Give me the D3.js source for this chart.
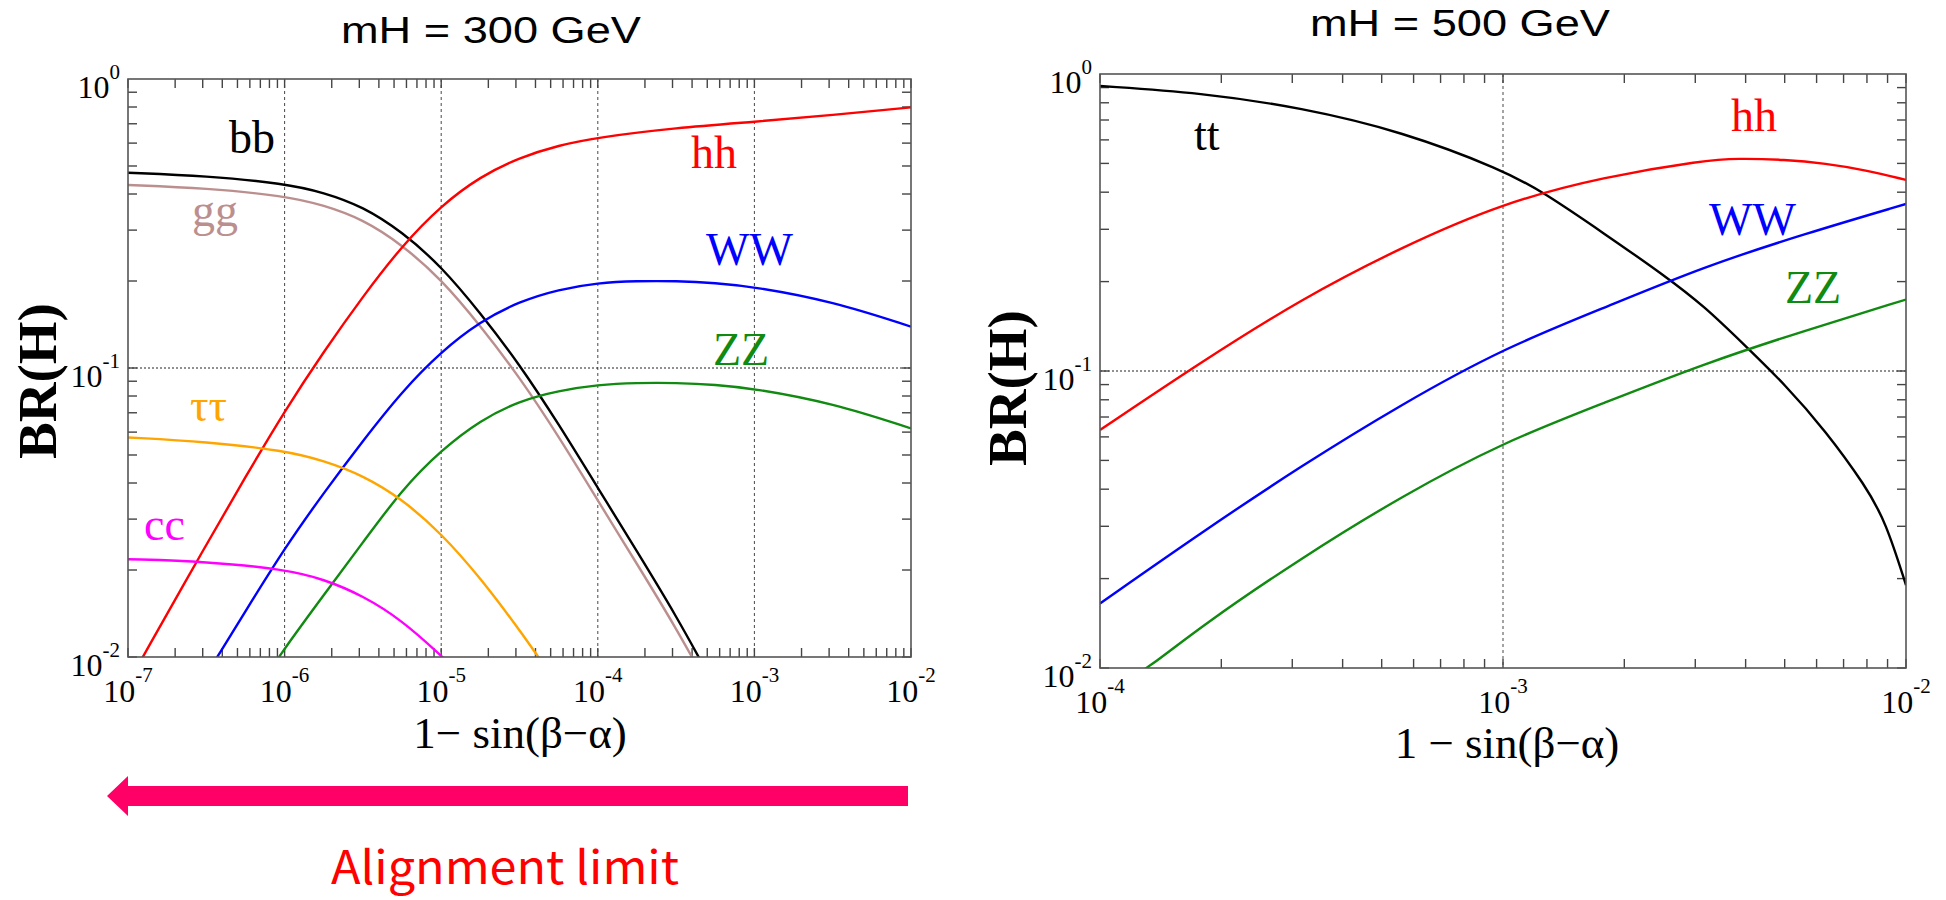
<!DOCTYPE html>
<html>
<head>
<meta charset="utf-8">
<script src="https://cdn.jsdelivr.net/npm/d3@7"></script>
<style>
  body { margin: 0; background: #fff; }
  svg { display: block; }
</style>
</head>
<body>
<svg id="chart" width="1946" height="900"></svg>
<script>
// ---- data : [log10(1 - sin(beta-alpha)), BR] ----

// mH = 300 GeV
var bb300 = [[-7, 0.474], [-6.5, 0.462], [-6, 0.435], [-5.75, 0.405], [-5.5, 0.362], [-5.25, 0.296], [-5, 0.225],
             [-4.75, 0.155], [-4.5, 0.103], [-4.25, 0.064], [-4, 0.0385], [-3.75, 0.0232], [-3.5, 0.0139], [-3.3, 0.0088]];
var gg300 = [[-7, 0.43], [-6.5, 0.419], [-6, 0.394], [-5.75, 0.366], [-5.5, 0.327], [-5.25, 0.267], [-5, 0.203],
             [-4.75, 0.14], [-4.5, 0.093], [-4.25, 0.058], [-4, 0.0348], [-3.75, 0.021], [-3.5, 0.0126], [-3.3, 0.008]];
var hh300 = [[-7, 0.0081], [-6.906, 0.01], [-6.5, 0.0245], [-6.25, 0.042], [-6, 0.071], [-5.75, 0.114], [-5.5, 0.177],
             [-5.25, 0.265], [-5, 0.365], [-4.75, 0.46], [-4.5, 0.535], [-4.25, 0.59], [-4, 0.628], [-3.5, 0.678],
             [-3, 0.711], [-2.5, 0.75], [-2, 0.798]];
var ww300 = [[-6.5, 0.0087], [-6.43, 0.01], [-6.25, 0.0144], [-6, 0.0238], [-5.75, 0.037], [-5.5, 0.056], [-5.25, 0.083],
             [-5, 0.114], [-4.75, 0.145], [-4.5, 0.17], [-4.25, 0.187], [-4, 0.197], [-3.75, 0.2], [-3.5, 0.2],
             [-3.25, 0.197], [-3, 0.191], [-2.5, 0.17], [-2, 0.139]];
var zz300 = [[-6.1, 0.0088], [-6.04, 0.01], [-5.75, 0.0164], [-5.5, 0.0249], [-5.25, 0.038], [-5, 0.052], [-4.75, 0.066],
             [-4.5, 0.077], [-4.25, 0.0835], [-4, 0.0875], [-3.75, 0.0889], [-3.5, 0.0889], [-3.25, 0.0876],
             [-3, 0.0849], [-2.5, 0.0756], [-2, 0.0618]];
var tautau300 = [[-7, 0.0575], [-6.5, 0.0556], [-6, 0.0518], [-5.75, 0.0478], [-5.5, 0.0425], [-5.25, 0.0352],
                 [-5, 0.0268], [-4.75, 0.0188], [-4.5, 0.0124], [-4.38, 0.01], [-4.3, 0.0087]];
var cc300 = [[-7, 0.0218], [-6.5, 0.0214], [-6, 0.0201], [-5.75, 0.0186], [-5.5, 0.0163], [-5.25, 0.0134],
             [-5, 0.0101], [-4.95, 0.0095]];

// mH = 500 GeV
var tt500 = [[-4, 0.911], [-3.75, 0.865], [-3.5, 0.77], [-3.25, 0.64], [-3, 0.475], [-2.9, 0.4], [-2.75, 0.291],
             [-2.6, 0.21], [-2.5, 0.165], [-2.4, 0.122], [-2.3, 0.09], [-2.2, 0.063], [-2.1, 0.041], [-2.05, 0.031],
             [-2, 0.019]];
var hh500 = [[-4, 0.0633], [-3.75, 0.107], [-3.5, 0.175], [-3.25, 0.262], [-3, 0.368], [-2.75, 0.451], [-2.5, 0.512],
             [-2.42, 0.52], [-2.3, 0.515], [-2.2, 0.5], [-2.1, 0.475], [-2, 0.44]];
var ww500 = [[-4, 0.0165], [-3.75, 0.0285], [-3.5, 0.048], [-3.25, 0.0775], [-3, 0.119], [-2.75, 0.163], [-2.5, 0.225],
             [-2.25, 0.29], [-2, 0.365]];
var zz500 = [[-3.95, 0.0088], [-3.88, 0.01], [-3.75, 0.0138], [-3.5, 0.0235], [-3.25, 0.038], [-3, 0.0575], [-2.75, 0.078],
             [-2.5, 0.106], [-2.25, 0.137], [-2, 0.174]];

// axis decades
var xExp300 = [-7, -6, -5, -4, -3, -2];
var xExp500 = [-4, -3, -2];
var yExp = [-2, -1, 0];

var svg = d3.select("#chart");

function sup(sel, exp, fs, ss, dy) {
  sel.append("tspan").attr("font-size", fs).text("10");
  sel.append("tspan").attr("font-size", ss).attr("dy", dy).text(exp);
}

// -------*****--------^^^^-------*****--------
//               one panel
// -------*****--------^^^^-------*****--------
function drawPanel(p) {
  var g = svg.append("g");

  var xScale = d3.scaleLog().domain([Math.pow(10, p.xExp[0]), Math.pow(10, p.xExp[p.xExp.length - 1])])
                 .range([p.left, p.right]);
  var yScale = d3.scaleLog().domain([1e-2, 1]).range([p.bottom, p.top]);

  var clipId = "clip_" + p.name;
  svg.append("clipPath").attr("id", clipId)
     .append("rect").attr("x", p.left).attr("y", p.top)
     .attr("width", p.right - p.left).attr("height", p.bottom - p.top);

  // grid
  p.xExp.slice(1, -1).forEach(function(e) {
    g.append("line")
     .attr("x1", xScale(Math.pow(10, e))).attr("x2", xScale(Math.pow(10, e)))
     .attr("y1", p.top).attr("y2", p.bottom)
     .attr("stroke", "#333").attr("stroke-width", 0.9).attr("stroke-dasharray", "3,3");
  });
  g.append("line")
   .attr("x1", p.left).attr("x2", p.right)
   .attr("y1", yScale(0.1)).attr("y2", yScale(0.1))
   .attr("stroke", "#222").attr("stroke-width", 1).attr("stroke-dasharray", "2,2");

  // ticks (all inside)
  var xt = [];
  for (var e = p.xExp[0]; e < p.xExp[p.xExp.length - 1]; e++) {
    for (var m = 1; m < 10; m++) xt.push(m * Math.pow(10, e));
  }
  xt.push(Math.pow(10, p.xExp[p.xExp.length - 1]));
  var yt = [];
  for (var e2 = -2; e2 < 0; e2++) {
    for (var m2 = 1; m2 < 10; m2++) yt.push(m2 * Math.pow(10, e2));
  }
  var tl = 9;
  xt.forEach(function(v) {
    var x = xScale(v);
    g.append("line").attr("x1", x).attr("x2", x).attr("y1", p.top).attr("y2", p.top + tl)
     .attr("stroke", "#444").attr("stroke-width", 1.4);
    g.append("line").attr("x1", x).attr("x2", x).attr("y1", p.bottom).attr("y2", p.bottom - tl)
     .attr("stroke", "#444").attr("stroke-width", 1.4);
  });
  yt.forEach(function(v) {
    var y = yScale(v);
    g.append("line").attr("x1", p.left).attr("x2", p.left + tl).attr("y1", y).attr("y2", y)
     .attr("stroke", "#444").attr("stroke-width", 1.4);
    g.append("line").attr("x1", p.right).attr("x2", p.right - tl).attr("y1", y).attr("y2", y)
     .attr("stroke", "#444").attr("stroke-width", 1.4);
  });

  // curves
  var line = d3.line()
               .x(function(d) { return xScale(Math.pow(10, d[0])); })
               .y(function(d) { return yScale(d[1]); })
               .curve(d3.curveBasis);
  var cg = g.append("g").attr("clip-path", "url(#" + clipId + ")");
  p.series.forEach(function(s) {
    cg.append("path").datum(s.data)
      .attr("fill", "none").attr("stroke", s.color).attr("stroke-width", 2.4)
      .attr("d", line);
  });

  // frame
  g.append("rect").attr("x", p.left).attr("y", p.top)
   .attr("width", p.right - p.left).attr("height", p.bottom - p.top)
   .attr("fill", "none").attr("stroke", "#555").attr("stroke-width", 1.6);

  // tick labels
  p.xExp.forEach(function(e) {
    var t = g.append("text").attr("x", xScale(Math.pow(10, e))).attr("y", p.bottom + 45)
             .attr("text-anchor", "middle").attr("font-family", "Liberation Serif, Times New Roman, serif")
             .attr("fill", "#000");
    sup(t, e, 32, 21, -20);
  });
  yExp.forEach(function(e) {
    var t = g.append("text").attr("x", p.left - 8).attr("y", yScale(Math.pow(10, e)) + 19)
             .attr("text-anchor", "end").attr("font-family", "Liberation Serif, Times New Roman, serif")
             .attr("fill", "#000");
    sup(t, e, 32, 21, -19);
  });

  // axis titles
  g.append("text")
   .attr("transform", "translate(" + p.yLabelX + "," + p.yLabelY + ") rotate(-90)")
   .attr("text-anchor", "middle")
   .attr("font-family", "Liberation Serif, Times New Roman, serif").attr("font-weight", "bold")
   .attr("font-size", 55).text("BR(H)");
  g.append("text").attr("x", p.xLabelX).attr("y", p.xLabelY)
   .attr("text-anchor", "middle")
   .attr("font-family", "Liberation Serif, Times New Roman, serif")
   .attr("font-size", 45).text(p.xLabel);

  // title
  g.append("text").attr("x", p.titleX).attr("y", p.titleY)
   .attr("text-anchor", "middle").attr("font-family", "Liberation Sans, Arial, sans-serif")
   .attr("font-size", 37).attr("textLength", 300).attr("lengthAdjust", "spacingAndGlyphs")
   .text(p.title);

  // curve labels
  p.series.forEach(function(s) {
    g.append("text").attr("x", s.lx).attr("y", s.ly)
     .attr("font-family", "Liberation Serif, Times New Roman, serif")
     .attr("font-size", 46).attr("fill", s.color).text(s.label);
  });

  return xScale;
}

var x300 = drawPanel({
  name: "300", left: 128, right: 911, top: 79, bottom: 657, xExp: xExp300,
  title: "mH = 300 GeV", titleX: 491, titleY: 43,
  xLabel: "1\u2212 sin(\u03b2\u2212\u03b1)", xLabelX: 520, xLabelY: 748, yLabelX: 56, yLabelY: 381,
  series: [
    { data: gg300, color: "#bc8f8f", label: "gg", lx: 192, ly: 226 },
    { data: bb300, color: "#000", label: "bb", lx: 229, ly: 153 },
    { data: hh300, color: "#ff0000", label: "hh", lx: 691, ly: 168 },
    { data: ww300, color: "#0000ff", label: "WW", lx: 706, ly: 265 },
    { data: zz300, color: "#108a10", label: "ZZ", lx: 713, ly: 365 },
    { data: tautau300, color: "#ffa500", label: "\u03c4\u03c4", lx: 190, ly: 421 },
    { data: cc300, color: "#ff00ff", label: "cc", lx: 144, ly: 540 }
  ]
});

drawPanel({
  name: "500", left: 1100, right: 1906, top: 74, bottom: 668, xExp: xExp500,
  title: "mH = 500 GeV", titleX: 1460, titleY: 36,
  xLabel: "1 \u2212 sin(\u03b2\u2212\u03b1)", xLabelX: 1507, xLabelY: 758, yLabelX: 1026, yLabelY: 388,
  series: [
    { data: tt500, color: "#000", label: "tt", lx: 1194, ly: 150 },
    { data: hh500, color: "#ff0000", label: "hh", lx: 1731, ly: 131 },
    { data: ww500, color: "#0000ff", label: "WW", lx: 1709, ly: 235 },
    { data: zz500, color: "#108a10", label: "ZZ", lx: 1785, ly: 303 }
  ]
});

// alignment arrow, spans the 300 GeV x range
var aRight = x300(1e-2) - 3, aBack = x300(1e-7), aTip = aBack - 21, aY = 796;
svg.append("path")
   .attr("d", "M" + aRight + "," + (aY - 10) + "H" + aBack + "V" + (aY - 20) + "L" + aTip + "," + aY +
              "L" + aBack + "," + (aY + 20) + "V" + (aY + 10) + "H" + aRight + "Z")
   .attr("fill", "#ff0066");

svg.append("text").attr("x", 505).attr("y", 884).attr("text-anchor", "middle")
   .attr("font-family", "Noto Sans CJK JP, Noto Sans, sans-serif").attr("font-size", 46)
   .attr("textLength", 348).attr("lengthAdjust", "spacingAndGlyphs")
   .attr("fill", "#ff0000").text("Alignment limit");
</script>
</body>
</html>
